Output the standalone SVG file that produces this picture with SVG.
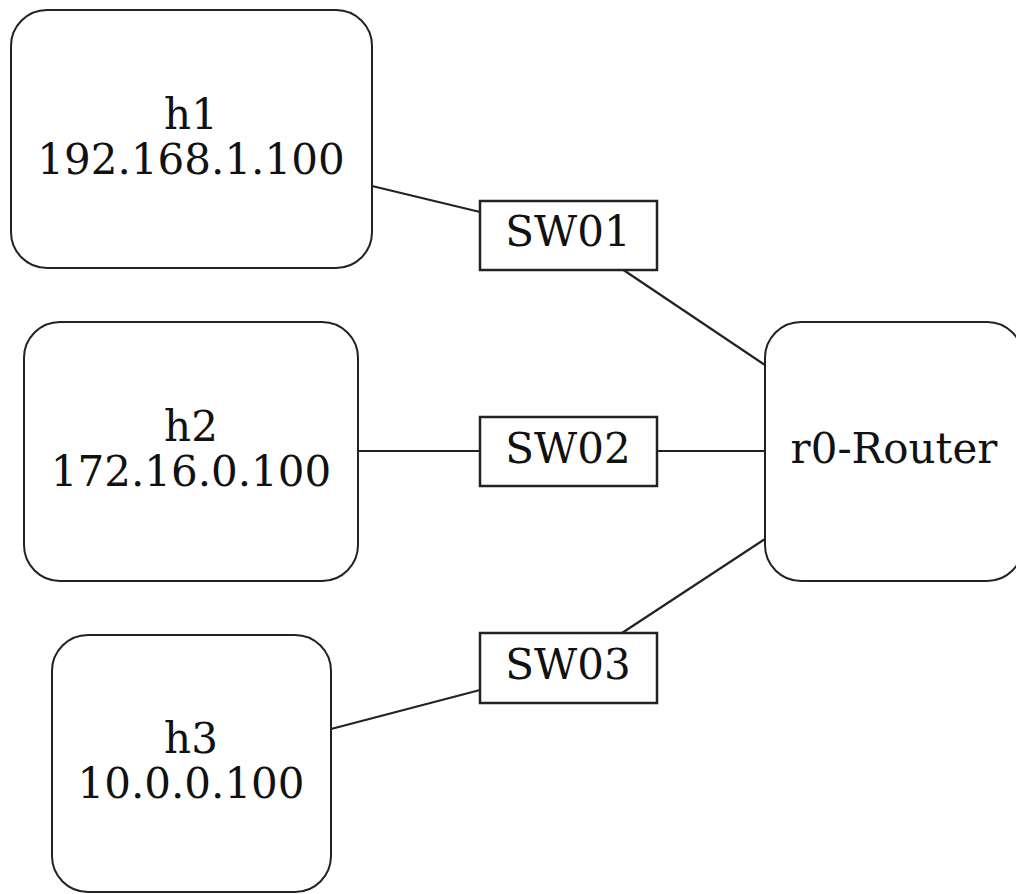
<svg xmlns="http://www.w3.org/2000/svg" width="1016" height="894" viewBox="0 0 1016 894">
<style>
.host{fill:#fff;stroke:#222;stroke-width:2}
.sw{fill:#fff;stroke:#222;stroke-width:2.5}
.edge{stroke:#222;stroke-width:2.2;fill:none}
text{font-family:"DejaVu Serif",serif;font-size:42px;fill:#111;text-anchor:middle}
</style>
<rect width="1016" height="894" fill="#fff"/>
<g id="connectors">
<line class="edge" x1="372" y1="186" x2="480" y2="212"/>
<line class="edge" x1="622" y1="269" x2="765" y2="365"/>
<line class="edge" x1="358" y1="451" x2="480" y2="451"/>
<line class="edge" x1="657" y1="451" x2="765" y2="451"/>
<line class="edge" x1="622" y1="633" x2="765" y2="539"/>
<line class="edge" x1="331" y1="729" x2="480" y2="690"/>
</g>
<g id="h1">
<rect class="host" x="11" y="10" width="361" height="258" rx="36" ry="36"/>
<text x="191" y="129">h1</text>
<text x="191" y="174">192.168.1.100</text>
</g>
<g id="h2">
<rect class="host" x="24" y="322" width="334" height="259" rx="36" ry="36"/>
<text x="191" y="441">h2</text>
<text x="191" y="486">172.16.0.100</text>
</g>
<g id="h3">
<rect class="host" x="52" y="635" width="279" height="257" rx="36" ry="36"/>
<text x="191" y="753">h3</text>
<text x="191" y="798">10.0.0.100</text>
</g>
<g id="r0">
<rect class="host" x="765" y="322" width="258" height="259" rx="36" ry="36"/>
<text x="894" y="463">r0-Router</text>
</g>
<g id="SW01">
<rect class="sw" x="480" y="201" width="177" height="69"/>
<text x="568" y="246">SW01</text>
</g>
<g id="SW02">
<rect class="sw" x="480" y="417" width="177" height="69"/>
<text x="568" y="463">SW02</text>
</g>
<g id="SW03">
<rect class="sw" x="480" y="633" width="177" height="70"/>
<text x="568" y="679">SW03</text>
</g>
</svg>
